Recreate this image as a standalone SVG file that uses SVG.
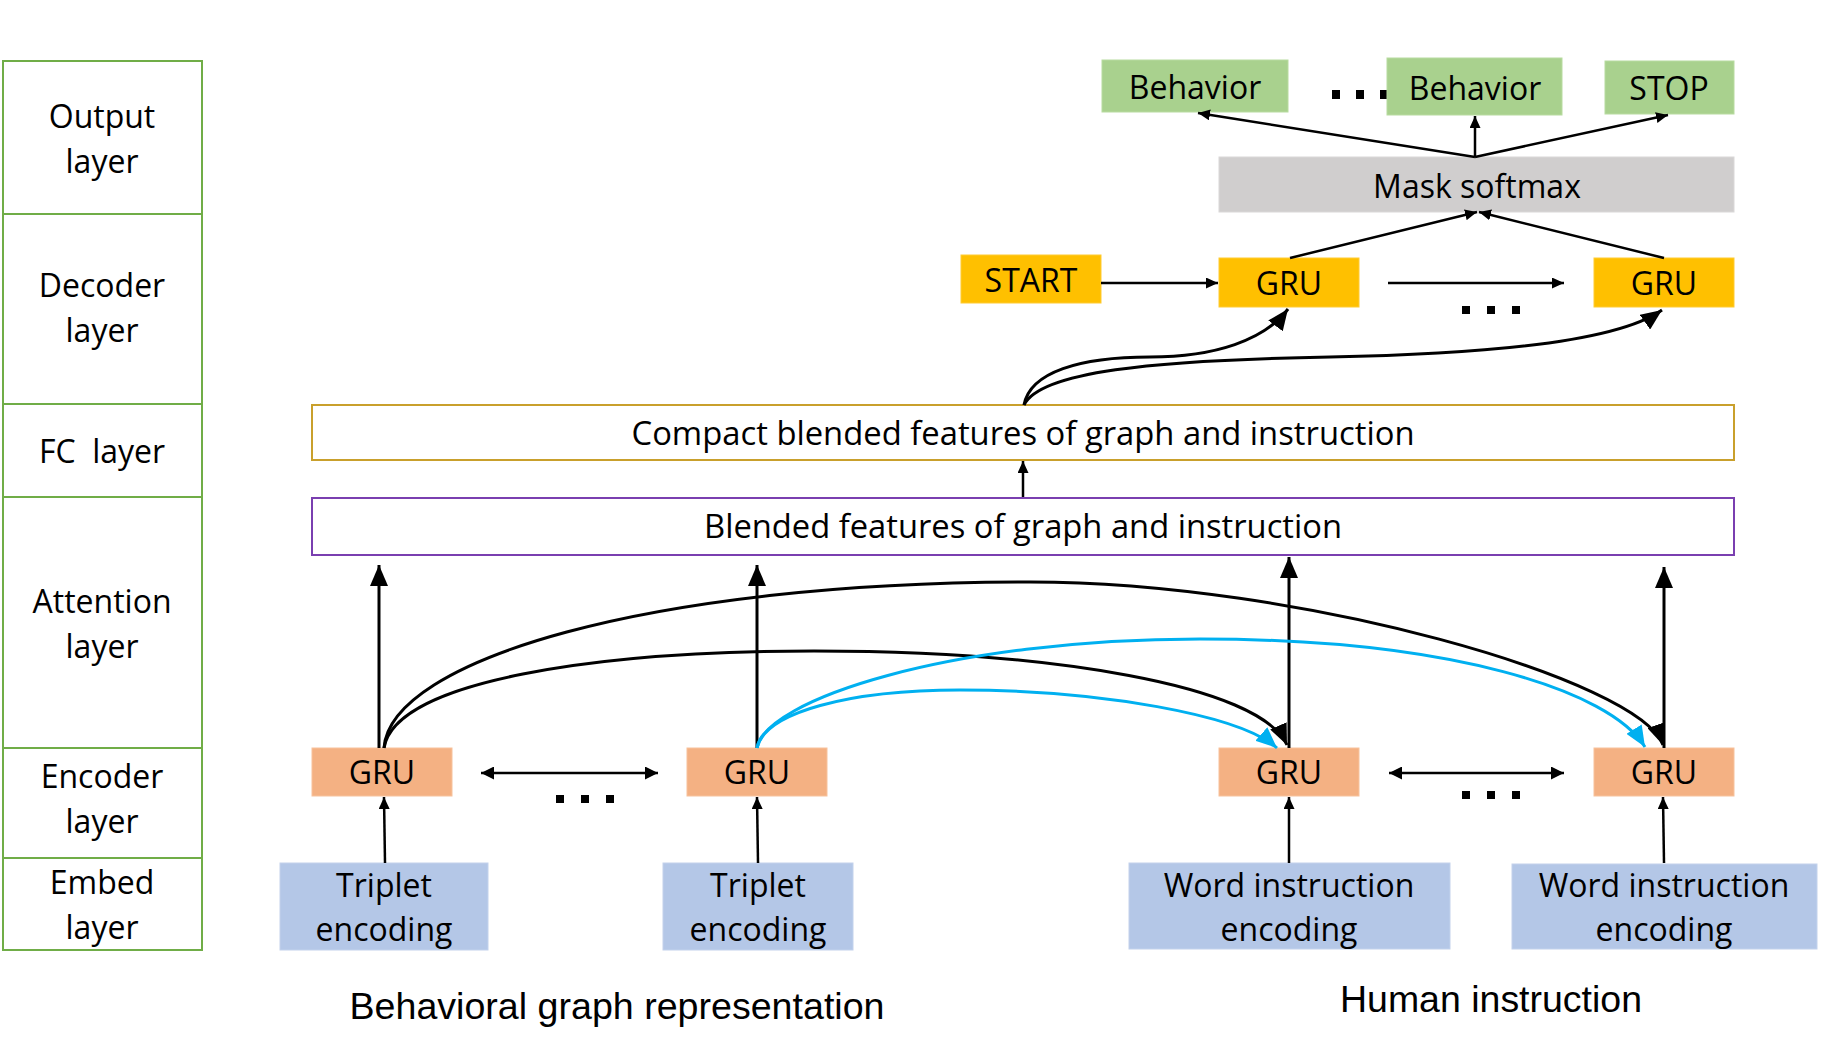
<svg xmlns="http://www.w3.org/2000/svg" width="1824" height="1052" viewBox="0 0 1824 1052">
<defs>
<style>
.lay{fill:#fff;stroke:#70AD47;stroke-width:2}
.t{font-family:"Open Sans","Noto Sans",sans-serif;font-size:32px;fill:#000;text-anchor:middle}
.cap{font-family:"Liberation Sans",Arial,sans-serif;font-size:37px;fill:#000;text-anchor:middle}
.green{fill:#A9D18E;stroke:#B8DBA0;stroke-width:1}
.gray{fill:#D0CECE;stroke:#DAD8D8;stroke-width:1}
.gold{fill:#FFC000;stroke:#FFCB33;stroke-width:1}
.salmon{fill:#F4B183;stroke:#F7C29C;stroke-width:1}
.blue{fill:#B4C7E7;stroke:#C3D2EC;stroke-width:1}
.dot{fill:#000}
.ln{fill:none;stroke:#000;stroke-width:2.5}
.bl{fill:none;stroke:#000;stroke-width:3}
.cy{fill:none;stroke:#00B0F0;stroke-width:3}
</style>
<marker id="sm" markerUnits="userSpaceOnUse" markerWidth="13" markerHeight="11" refX="12" refY="5.5" orient="auto"><path d="M0,0 L12,5.5 L0,11 z" fill="#000"/></marker>
<marker id="md" markerUnits="userSpaceOnUse" markerWidth="14" markerHeight="13" refX="13" refY="6.5" orient="auto-start-reverse"><path d="M0,0 L13,6.5 L0,13 z" fill="#000"/></marker>
<marker id="bg" markerUnits="userSpaceOnUse" markerWidth="22" markerHeight="18" refX="21" refY="9" orient="auto"><path d="M0,0 L21,9 L0,18 z" fill="#000"/></marker>
<marker id="bc" markerUnits="userSpaceOnUse" markerWidth="22" markerHeight="18" refX="21" refY="9" orient="auto"><path d="M0,0 L21,9 L0,18 z" fill="#00B0F0"/></marker>
</defs>
<rect width="1824" height="1052" fill="#fff"/>

<g id="layers">
<g id="layer-output"><rect class="lay" x="3" y="61" width="199" height="153"/><text class="t" x="102" y="128">Output</text><text class="t" x="102" y="173">layer</text></g>
<g id="layer-decoder"><rect class="lay" x="3" y="214" width="199" height="190"/><text class="t" x="102" y="297">Decoder</text><text class="t" x="102" y="342">layer</text></g>
<g id="layer-fc"><rect class="lay" x="3" y="404" width="199" height="93"/><text class="t" x="102" y="463" xml:space="preserve">FC  layer</text></g>
<g id="layer-attention"><rect class="lay" x="3" y="497" width="199" height="251"/><text class="t" x="102" y="613">Attention</text><text class="t" x="102" y="658">layer</text></g>
<g id="layer-encoder"><rect class="lay" x="3" y="748" width="199" height="110"/><text class="t" x="102" y="788">Encoder</text><text class="t" x="102" y="833">layer</text></g>
<g id="layer-embed"><rect class="lay" x="3" y="858" width="199" height="92"/><text class="t" x="102" y="894">Embed</text><text class="t" x="102" y="939">layer</text></g>
</g>

<g id="behavior1"><rect class="green" x="1102" y="60" width="186" height="52"/><text class="t" x="1195" y="99">Behavior</text></g>
<g id="out-dots"><rect class="dot" x="1332" y="90" width="8" height="9"/><rect class="dot" x="1356" y="90" width="8" height="9"/><rect class="dot" x="1380" y="90" width="8" height="9"/></g>
<g id="behavior2"><rect class="green" x="1387" y="58" width="175" height="57"/><text class="t" x="1475" y="100">Behavior</text></g>
<g id="stop"><rect class="green" x="1605" y="61" width="129" height="53"/><text class="t" x="1669" y="100">STOP</text></g>
<g id="mask-softmax"><rect class="gray" x="1219" y="157" width="515" height="55"/><text class="t" x="1477" y="198">Mask softmax</text></g>
<g id="start"><rect class="gold" x="961" y="255" width="140" height="48"/><text class="t" x="1031" y="292">START</text></g>
<g id="dec-gru1"><rect class="gold" x="1219" y="258" width="140" height="49"/><text class="t" x="1289" y="295">GRU</text></g>
<g id="dec-gru2"><rect class="gold" x="1594" y="258" width="140" height="49"/><text class="t" x="1664" y="295">GRU</text></g>
<g id="dec-dots"><rect class="dot" x="1462" y="306" width="8" height="8"/><rect class="dot" x="1487" y="306" width="8" height="8"/><rect class="dot" x="1512" y="306" width="8" height="8"/></g>
<g id="compact"><rect x="312" y="405" width="1422" height="55" fill="#fff" stroke="#C9A02C" stroke-width="2"/><text class="t" x="1023" y="445" textLength="783" lengthAdjust="spacingAndGlyphs">Compact blended features of graph and instruction</text></g>
<g id="blended"><rect x="312" y="498" width="1422" height="57" fill="#fff" stroke="#7A3FB0" stroke-width="2"/><text class="t" x="1023" y="538" textLength="638" lengthAdjust="spacingAndGlyphs">Blended features of graph and instruction</text></g>
<g id="enc-gru1"><rect class="salmon" x="312" y="748" width="140" height="48"/><text class="t" x="382" y="784">GRU</text></g>
<g id="enc-gru2"><rect class="salmon" x="687" y="748" width="140" height="48"/><text class="t" x="757" y="784">GRU</text></g>
<g id="enc-gru3"><rect class="salmon" x="1219" y="748" width="140" height="48"/><text class="t" x="1289" y="784">GRU</text></g>
<g id="enc-gru4"><rect class="salmon" x="1594" y="748" width="140" height="48"/><text class="t" x="1664" y="784">GRU</text></g>
<g id="enc-dots-left"><rect class="dot" x="556" y="795" width="8" height="8"/><rect class="dot" x="581" y="795" width="8" height="8"/><rect class="dot" x="606" y="795" width="8" height="8"/></g>
<g id="enc-dots-right"><rect class="dot" x="1462" y="791" width="8" height="8"/><rect class="dot" x="1487" y="791" width="8" height="8"/><rect class="dot" x="1512" y="791" width="8" height="8"/></g>
<g id="triplet1"><rect class="blue" x="280" y="863" width="208" height="87"/><text class="t" x="384" y="897">Triplet</text><text class="t" x="384" y="941">encoding</text></g>
<g id="triplet2"><rect class="blue" x="663" y="863" width="190" height="87"/><text class="t" x="758" y="897">Triplet</text><text class="t" x="758" y="941">encoding</text></g>
<g id="word1"><rect class="blue" x="1129" y="863" width="321" height="86"/><text class="t" x="1289" y="897">Word instruction</text><text class="t" x="1289" y="941">encoding</text></g>
<g id="word2"><rect class="blue" x="1512" y="864" width="305" height="85"/><text class="t" x="1664" y="897">Word instruction</text><text class="t" x="1664" y="941">encoding</text></g>
<g id="captions"><text class="cap" x="617" y="1019" textLength="535" lengthAdjust="spacingAndGlyphs">Behavioral graph representation</text><text class="cap" x="1491" y="1012" textLength="302" lengthAdjust="spacingAndGlyphs">Human instruction</text></g>

<g id="connectors">
<path class="ln" d="M1475,157 L1198,113" marker-end="url(#sm)"/>
<path class="ln" d="M1475,157 L1475,116" marker-end="url(#sm)"/>
<path class="ln" d="M1475,157 L1668,115" marker-end="url(#sm)"/>
<path class="ln" d="M1290,258 L1477,212" marker-end="url(#sm)"/>
<path class="ln" d="M1664,258 L1479,212" marker-end="url(#sm)"/>
<path class="ln" d="M1101,283 L1218,283" marker-end="url(#sm)"/>
<path class="ln" d="M1388,283 L1564,283" marker-end="url(#sm)"/>
<path class="bl" d="M1024,405 C1030,372 1080,357 1150,357 C1215,357 1265,340 1288,309" marker-end="url(#bg)"/>
<path class="bl" d="M1024,405 C1040,372 1150,360 1330,357 C1500,354 1620,340 1662,310" marker-end="url(#bg)"/>
<path class="ln" d="M1023,497 L1023,461" marker-end="url(#sm)"/>
<path class="bl" d="M379,748 L379,565" marker-end="url(#bg)"/>
<path class="bl" d="M757,748 L757,565" marker-end="url(#bg)"/>
<path class="bl" d="M1289,748 L1289,557" marker-end="url(#bg)"/>
<path class="bl" d="M1664,748 L1664,567" marker-end="url(#bg)"/>
<path class="bl" d="M384,748 C390,660 650,582 1030,582 C1300,582 1640,680 1663,745" marker-end="url(#bg)"/>
<path class="bl" d="M384,748 C395,680 600,651 814,651 C1050,651 1260,685 1287,745" marker-end="url(#bg)"/>
<path class="cy" d="M757,748 C765,700 950,639 1200,639 C1450,639 1610,690 1645,747" marker-end="url(#bc)"/>
<path class="cy" d="M757,748 C765,712 850,690 960,690 C1100,690 1240,715 1277,748" marker-end="url(#bc)"/>
<path class="ln" d="M481,773 L658,773" marker-start="url(#md)" marker-end="url(#md)"/>
<path class="ln" d="M1389,773 L1564,773" marker-start="url(#md)" marker-end="url(#md)"/>
<path class="ln" d="M385,863 L384,797" marker-end="url(#sm)"/>
<path class="ln" d="M758,863 L757,797" marker-end="url(#sm)"/>
<path class="ln" d="M1289,863 L1289,797" marker-end="url(#sm)"/>
<path class="ln" d="M1664,863 L1663,797" marker-end="url(#sm)"/>
</g>
</svg>
